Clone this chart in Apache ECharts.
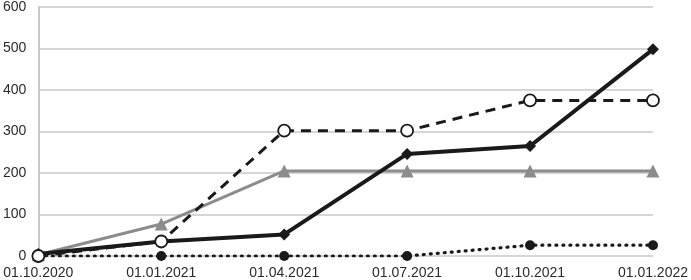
<!DOCTYPE html>
<html>
<head>
<meta charset="utf-8">
<script src="https://cdn.jsdelivr.net/npm/echarts@6/dist/echarts.min.js"></script>
<style>
  html, body { margin: 0; padding: 0; background: #fff; }
  #chart { width: 691px; height: 280px; }
</style>
</head>
<body>
<div id="chart"></div>
<script>
  const categories = ['01.10.2020', '01.01.2021', '01.04.2021', '01.07.2021', '01.10.2021', '01.01.2022'];
  const diamondData = [5, 35, 52, 246, 265, 498];
  const circleData = [0, 35, 302, 302, 375, 375];
  const triangleData = [3, 77, 205, 205, 205, 205];
  const dotData = [0, 0, 0, 0, 26, 26];

  let chart = echarts.init(document.getElementById('chart'));
  let option = {
    animation: false,
    grid: {
      left: 35,
      right: 31,
      top: 3,
      bottom: 24
    },
    xAxis: {
      type: 'category',
      boundaryGap: false,
      data: categories,
      axisLine: { show: false },
      axisTick: { show: false },
      axisLabel: {
        color: '#2b2b2b',
        fontSize: 14,
        fontFamily: 'Liberation Sans',
        margin: 10,
        interval: 0
      }
    },
    yAxis: {
      type: 'value',
      min: 0,
      max: 600,
      interval: 100,
      axisLine: { show: true, lineStyle: { color: '#c8c8c8', width: 2 } },
      axisTick: { show: false },
      axisLabel: {
        color: '#2b2b2b',
        fontSize: 14,
        fontFamily: 'Liberation Sans',
        margin: 12
      },
      splitLine: { lineStyle: { color: '#c8c8c8', width: 1.5 } }
    },
    series: [
      {
        type: 'line',
        data: dotData,
        symbol: 'circle',
        symbolSize: 10,
        lineStyle: { color: '#1a1a1a', width: 3.2, type: [1, 6], cap: 'round' },
        itemStyle: { color: '#1a1a1a' }
      },
      {
        type: 'line',
        data: triangleData,
        symbol: 'triangle',
        symbolSize: 13,
        lineStyle: { color: '#8c8c8c', width: 3 },
        itemStyle: { color: '#8c8c8c' }
      },
      {
        type: 'line',
        data: diamondData,
        symbol: 'diamond',
        symbolSize: 12,
        lineStyle: { color: '#1a1a1a', width: 4 },
        itemStyle: { color: '#1a1a1a' }
      },
      {
        type: 'line',
        data: circleData,
        symbol: 'circle',
        symbolSize: 12,
        lineStyle: { color: '#1a1a1a', width: 3, type: [10, 7] },
        itemStyle: { color: '#fff', borderColor: '#1a1a1a', borderWidth: 1.8 }
      }
    ]
  };
  chart.setOption(option);
</script>
</body>
</html>
